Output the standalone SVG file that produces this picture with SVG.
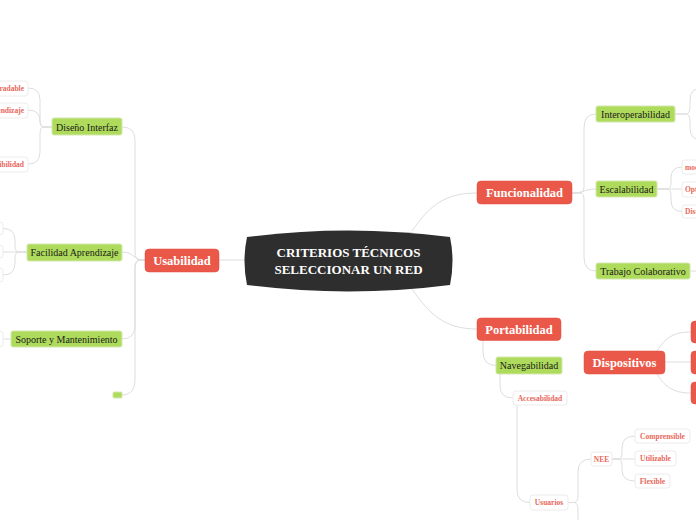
<svg xmlns="http://www.w3.org/2000/svg" width="696" height="520" viewBox="0 0 696 520">
<style>
.c{fill:none;stroke:#dedede;stroke-width:1}
.red{fill:#ea5849;stroke:#e34a3c;stroke-width:0.5}
.grn{fill:#aedb5c;stroke:#d3e8ae;stroke-width:1}
.wht{fill:#ffffff;stroke:#ececec;stroke-width:1}
.tr{font-family:"Liberation Serif",serif;font-weight:bold;font-size:12.5px;fill:#ffffff;text-anchor:middle}
.tg{font-family:"Liberation Serif",serif;font-size:10px;fill:#1a1a1a;text-anchor:middle}
.ts{font-family:"Liberation Serif",serif;font-weight:bold;font-size:7.5px;fill:#e8685c;text-anchor:middle}
.tc{font-family:"Liberation Serif",serif;font-weight:bold;font-size:13px;fill:#ffffff;text-anchor:middle}
</style>
<rect width="696" height="520" fill="#ffffff"/>
<g id="connectors">
<path class="c" d="M219,260 H245"/>
<path class="c" d="M412,231 C430,205 445,193 477,193"/>
<path class="c" d="M412,289 C430,315 445,329 477,329"/>
<path class="c" d="M145,260 H140 Q135,260 135,252 V140 Q135,127 122,127"/>
<path class="c" d="M145,260 C132,260 135,252 122,252"/>
<path class="c" d="M145,260 H140 Q135,260 135,268 V325 Q135,339 122,339"/>
<path class="c" d="M145,260 H140 Q135,260 135,268 V380 Q135,395 122,395"/>
<path class="c" d="M52,127 H44 Q40,127 40,120 V100 Q40,88 28,88"/>
<path class="c" d="M52,127 H44 Q40,127 40,121 Q40,110 28,110"/>
<path class="c" d="M52,127 H44 Q40,127 40,134 V152 Q40,164 28,164"/>
<path class="c" d="M27,252 H3"/>
<path class="c" d="M27,252 H19 Q15,252 15,246 V240 Q15,228.5 3,228.5"/>
<path class="c" d="M27,252 H19 Q15,252 15,258 V263 Q15,275 3,275"/>
<path class="c" d="M11,339 H3"/>
<path class="c" d="M572,193 H580 Q584,193 584,186 V128 Q584,114 596,114"/>
<path class="c" d="M572,193 C584,193 584,189 596,189"/>
<path class="c" d="M572,193 H580 Q584,193 584,200 V257 Q584,271 596,271"/>
<path class="c" d="M675,114 H686 Q690,114 690,106 V100 Q690,88 702,88"/>
<path class="c" d="M675,114 H686 Q690,114 690,122 V128 Q690,140 702,140"/>
<path class="c" d="M657,189 H682"/>
<path class="c" d="M657,189 H667 Q671,189 671,182 V178 Q671,167 682,167"/>
<path class="c" d="M657,189 H667 Q671,189 671,196 V200 Q671,211.5 682,211.5"/>
<path class="c" d="M690,271 H700"/>
<path class="c" d="M483,340 V352 Q483,365.5 496,365.5"/>
<path class="c" d="M500,374 V386 Q500,398 513,398"/>
<path class="c" d="M517,405 V490 Q517,502.5 530,502.5"/>
<path class="c" d="M568,502.5 H574 Q578,502.5 578,495 V472 Q578,459 591,459"/>
<path class="c" d="M568,502.5 H574 Q578,502.5 578,510 V525"/>
<path class="c" d="M612,459 H635"/>
<path class="c" d="M612,459 H618 Q622,459 622,452 V448 Q622,436 635,436"/>
<path class="c" d="M612,459 H618 Q622,459 622,466 V470 Q622,481 635,481"/>
<path class="c" d="M665,362 H691"/>
<path class="c" d="M657,351 C666,336 676,332 691,332"/>
<path class="c" d="M657,374 C666,389 676,393 691,393"/>
</g>
<g id="center">
<path d="M247,237 Q348,224 450,237 Q455,261 450,285 Q348,298 247,285 Q242,261 247,237 Z" fill="#2e2e2e"/>
<text class="tc" x="348.5" y="257">CRITERIOS TÉCNICOS</text>
<text class="tc" x="348.5" y="273.5">SELECCIONAR UN RED</text>
</g>
<g id="usabilidad"><rect class="red" x="145" y="249" width="74" height="23" rx="4"/><text class="tr" x="182" y="265">Usabilidad</text></g>
<g id="funcionalidad"><rect class="red" x="477" y="181" width="95" height="23" rx="4"/><text class="tr" x="524.5" y="197">Funcionalidad</text></g>
<g id="portabilidad"><rect class="red" x="477" y="318" width="84" height="22.5" rx="4"/><text class="tr" x="519" y="334">Portabilidad</text></g>
<g id="dispositivos"><rect class="red" x="584" y="351" width="81" height="23" rx="4"/><text class="tr" x="624.5" y="367">Dispositivos</text></g>
<g id="disp1"><rect class="red" x="691" y="321" width="60" height="22" rx="4"/></g>
<g id="disp2"><rect class="red" x="691" y="351" width="60" height="23" rx="4"/></g>
<g id="disp3"><rect class="red" x="691" y="382" width="60" height="22" rx="4"/></g>
<g id="diseno"><rect class="grn" x="52" y="118" width="70" height="17" rx="2"/><text class="tg" x="87" y="130.5">Diseño Interfaz</text></g>
<g id="facilidad"><rect class="grn" x="27" y="244" width="95" height="17" rx="2"/><text class="tg" x="74.5" y="255.5">Facilidad Aprendizaje</text></g>
<g id="soporte"><rect class="grn" x="11" y="331" width="111" height="16" rx="2"/><text class="tg" x="66.5" y="342.5">Soporte y Mantenimiento</text></g>
<g id="vacio"><rect class="grn" x="113" y="392" width="9" height="6" rx="1"/></g>
<g id="interop"><rect class="grn" x="596" y="106" width="79" height="16" rx="2"/><text class="tg" x="635.5" y="117.5">Interoperabilidad</text></g>
<g id="escal"><rect class="grn" x="596" y="181" width="61" height="16" rx="2"/><text class="tg" x="626.5" y="192.5">Escalabilidad</text></g>
<g id="trabajo"><rect class="grn" x="596" y="263" width="94" height="16" rx="2"/><text class="tg" x="643" y="274.5">Trabajo Colaborativo</text></g>
<g id="naveg"><rect class="grn" x="496" y="357" width="66" height="17" rx="2"/><text class="tg" x="529" y="369">Navegabilidad</text></g>
<g id="agradable"><rect class="wht" x="-40" y="81" width="68" height="15" rx="3"/><text class="ts" x="24" y="91" style="text-anchor:end">Agradable</text></g>
<g id="aprendizaje"><rect class="wht" x="-40" y="103" width="68" height="15" rx="3"/><text class="ts" x="24" y="113" style="text-anchor:end">Aprendizaje</text></g>
<g id="accesibilidad"><rect class="wht" x="-40" y="157" width="68" height="15" rx="3"/><text class="ts" x="24" y="167" style="text-anchor:end">Accesibilidad</text></g>
<g id="fa1"><rect class="wht" x="-50" y="222" width="53" height="13" rx="3"/></g>
<g id="fa2"><rect class="wht" x="-50" y="245" width="53" height="13" rx="3"/></g>
<g id="fa3"><rect class="wht" x="-50" y="268" width="53" height="14" rx="3"/></g>
<g id="sm1"><rect class="wht" x="-50" y="331" width="53" height="16" rx="3"/></g>
<g id="modular"><rect class="wht" x="682" y="160" width="60" height="14" rx="3"/><text class="ts" x="685" y="169.5" style="text-anchor:start">modular</text></g>
<g id="optim"><rect class="wht" x="682" y="182" width="60" height="15" rx="3"/><text class="ts" x="685" y="192" style="text-anchor:start">Optimización</text></g>
<g id="distrib"><rect class="wht" x="682" y="205" width="60" height="13" rx="3"/><text class="ts" x="685" y="214" style="text-anchor:start">Distribución</text></g>
<g id="accesab"><rect class="wht" x="513" y="391" width="54" height="14" rx="3"/><text class="ts" x="540" y="400.7">Accesabilidad</text></g>
<g id="usuarios"><rect class="wht" x="530" y="495" width="38" height="15" rx="3"/><text class="ts" x="549" y="505.2">Usuarios</text></g>
<g id="nee"><rect class="wht" x="591" y="452" width="21" height="14" rx="3"/><text class="ts" x="601.5" y="461.7">NEE</text></g>
<g id="compr"><rect class="wht" x="635" y="429" width="55" height="14" rx="3"/><text class="ts" x="662.5" y="438.7">Comprensible</text></g>
<g id="utiliz"><rect class="wht" x="635" y="451" width="41" height="15" rx="3"/><text class="ts" x="655.5" y="461.2">Utilizable</text></g>
<g id="flex"><rect class="wht" x="635" y="474" width="35" height="14" rx="3"/><text class="ts" x="652.5" y="483.7">Flexible</text></g>
</svg>
